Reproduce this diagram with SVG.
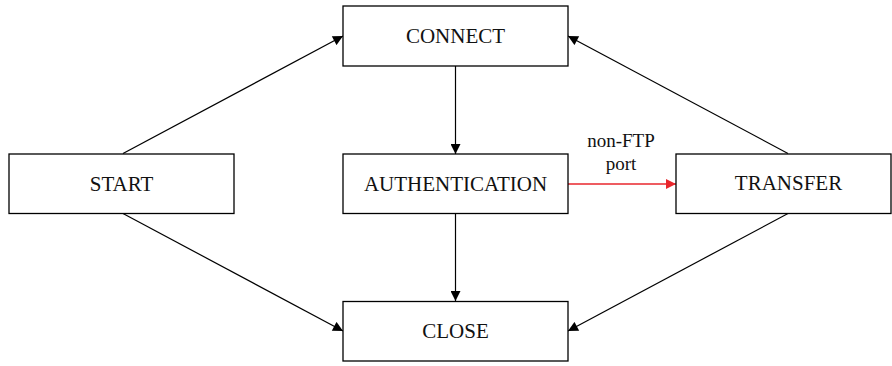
<svg xmlns="http://www.w3.org/2000/svg" width="892" height="366" viewBox="0 0 892 366">
  <defs>
    <marker id="arrow" viewBox="0 0 10 10" refX="10" refY="5" markerWidth="11" markerHeight="10" markerUnits="userSpaceOnUse" orient="auto">
      <path d="M0,0 L10,5 L0,10 Z" fill="#000"/>
    </marker>
    <marker id="arrow-red" viewBox="0 0 10 10" refX="10" refY="5" markerWidth="11" markerHeight="10" markerUnits="userSpaceOnUse" orient="auto">
      <path d="M0,0 L10,5 L0,10 Z" fill="#e8262c"/>
    </marker>
  </defs>
  <style>
    .box { fill: #fff; stroke: #000; stroke-width: 1.3; }
    .label { font-family: "Liberation Serif", "Times New Roman", serif; font-size: 21px; fill: #111; text-anchor: middle; dominant-baseline: central; }
    .edge-label { font-family: "Liberation Serif", "Times New Roman", serif; font-size: 19px; fill: #111; text-anchor: middle; dominant-baseline: central; }
    .edge { stroke: #000; stroke-width: 1.2; fill: none; marker-end: url(#arrow); }
    .edge-red { stroke: #e8262c; stroke-width: 1.4; fill: none; marker-end: url(#arrow-red); }
  </style>
  <rect width="892" height="366" fill="#fff"/>

  <g id="connectors">
    <line class="edge" x1="123" y1="153.5" x2="343" y2="36"/>
    <line class="edge" x1="123" y1="213.5" x2="343" y2="331"/>
    <line class="edge" x1="788" y1="153.5" x2="568" y2="36"/>
    <line class="edge" x1="788" y1="213.5" x2="568" y2="331"/>
    <line class="edge" x1="455.5" y1="66" x2="455.5" y2="154"/>
    <line class="edge" x1="455.5" y1="213.5" x2="455.5" y2="301"/>
    <line class="edge-red" x1="568" y1="184" x2="676" y2="184"/>
    <text class="edge-label" x="621" y="140">non-FTP</text>
    <text class="edge-label" x="621" y="163">port</text>
  </g>

  <g id="connect">
    <rect class="box" x="343" y="6" width="225" height="60"/>
    <text class="label" x="455.5" y="36">CONNECT</text>
  </g>
  <g id="start">
    <rect class="box" x="9" y="154" width="225" height="59.5"/>
    <text class="label" x="121.5" y="184">START</text>
  </g>
  <g id="authentication">
    <rect class="box" x="343" y="154" width="225" height="59.5"/>
    <text class="label" x="455.5" y="184">AUTHENTICATION</text>
  </g>
  <g id="transfer">
    <rect class="box" x="676" y="154" width="215" height="59.5"/>
    <text class="label" x="788.5" y="183">TRANSFER</text>
  </g>
  <g id="close">
    <rect class="box" x="343" y="301.5" width="225" height="59.5"/>
    <text class="label" x="455.5" y="331">CLOSE</text>
  </g>
</svg>
